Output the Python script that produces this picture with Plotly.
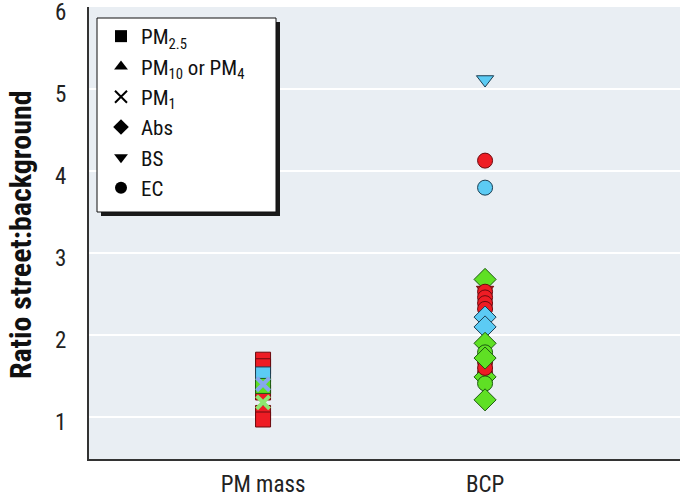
import plotly.graph_objects as go

categories = ["PM mass", "BCP"]
y_ticks = [1, 2, 3, 4, 5, 6]

# Each point: category index, value, metric, colour group
pm_x = [1, 1, 1, 1, 1, 1, 1, 1, 1]
pm_y = [1.70, 1.62, 1.30, 1.05, 0.97, 1.52, 1.38, 1.40, 1.18]
pm_metric = ["PM2.5", "PM2.5", "PM2.5", "PM2.5", "PM2.5", "PM2.5", "PM2.5", "PM1", "PM1"]
pm_group = ["red", "red", "red", "red", "red", "blue", "green", "blue", "green"]

bcp_x = [2] * 20
bcp_y = [5.12, 4.13, 3.80, 2.68, 2.55, 2.53, 2.46, 2.39, 2.32, 2.22, 2.10,
         1.90, 1.79, 1.67, 1.54, 1.49, 1.41, 1.21, 1.60, 1.72]
bcp_metric = ["BS", "EC", "EC", "Abs", "BS", "EC", "EC", "EC", "EC", "Abs", "Abs",
              "Abs", "EC", "EC", "EC", "Abs", "EC", "Abs", "EC", "Abs"]
bcp_group = ["blue", "red", "blue", "green", "red", "red", "red", "red", "red", "blue", "blue",
             "green", "green", "red", "red", "green", "green", "green", "red", "green"]

legend_labels = ["PM<sub>2.5</sub>", "PM<sub>10</sub> or PM<sub>4</sub>", "PM<sub>1</sub>", "Abs", "BS", "EC"]
legend_metrics = ["PM2.5", "PM10", "PM1", "Abs", "BS", "EC"]

symbol_map = {"PM2.5": "square", "PM10": "triangle-up", "PM1": "x-thin",
              "Abs": "diamond", "BS": "triangle-down", "EC": "circle"}
fill_map = {"red": "#ee1c24", "blue": "#5ccbf4", "green": "#5fe024"}
edge_map = {"red": "#6a0a0e", "blue": "#1c3d50", "green": "#1c5a10"}
xcol_map = {"red": "#ee6060", "blue": "#86a8ee", "green": "#8ee870"}

FONT = "Liberation Sans Narrow, Roboto Condensed, Arial Narrow, Liberation Sans, sans-serif"

W, H = 680, 498
L, R, T, B = 89, 0, 7, 39
PW, PH = W - L - R, H - T - B


def px_x(p):
    return (p - L) / PW


def px_y(p):
    return (H - B - p) / PH


fig = go.Figure()

xs = pm_x + bcp_x
ys = pm_y + bcp_y
ms = pm_metric + bcp_metric
gs = pm_group + bcp_group

for xv, yv, m, g in zip(xs, ys, ms, gs):
    sym = symbol_map[m]
    if sym == "x-thin":
        marker = dict(symbol=sym, size=13, line=dict(color=xcol_map[g], width=4))
    else:
        size = 17 if sym == "diamond" else 15
        marker = dict(symbol=sym, size=size, color=fill_map[g],
                      line=dict(color=edge_map[g], width=1))
    fig.add_trace(go.Scatter(x=[xv], y=[yv], mode="markers", marker=marker,
                             showlegend=False, hoverinfo="skip"))

for lab, m in zip(legend_labels, legend_metrics):
    sym = symbol_map[m]
    if sym == "x-thin":
        marker = dict(symbol=sym, size=13, line=dict(color="black", width=4))
    else:
        marker = dict(symbol=sym, size=16, color="black", line=dict(width=0))
    fig.add_trace(go.Scatter(x=[None], y=[None], mode="markers", marker=marker,
                             name=lab, showlegend=True))

# legend frame drawn as shapes: shadow then white box
fig.add_shape(type="rect", xref="paper", yref="paper",
              x0=px_x(101), x1=px_x(280), y0=px_y(216), y1=px_y(22),
              fillcolor="#1a1a1a", line=dict(width=0), layer="above")
fig.add_shape(type="rect", xref="paper", yref="paper",
              x0=px_x(97), x1=px_x(276), y0=px_y(212), y1=px_y(18),
              fillcolor="white", line=dict(color="#111", width=1), layer="above")

fig.update_layout(
    width=W, height=H,
    margin=dict(l=L, r=R, t=T, b=B, autoexpand=False),
    paper_bgcolor="white",
    plot_bgcolor="#e9eef3",
    font=dict(family=FONT, size=21, color="#222"),
    showlegend=True,
    legend=dict(x=px_x(101), y=px_y(16), xanchor="left", yanchor="top",
                bgcolor="rgba(0,0,0,0)", borderwidth=0,
                font=dict(family=FONT, size=21, color="#111"),
                itemsizing="constant", tracegroupgap=0),
    xaxis=dict(range=[0.216, 2.878], tickvals=[1, 2], ticktext=categories,
               showgrid=False, zeroline=False, showline=True, linecolor="#333",
               linewidth=2, ticks="outside", ticklen=3, tickcolor="rgba(0,0,0,0)",
               automargin=False,
               tickfont=dict(family=FONT, size=23, color="#222")),
    yaxis=dict(range=[0.488, 6.005], tickvals=y_ticks, ticktext=[str(t) for t in y_ticks],
               showgrid=True, gridcolor="white", gridwidth=1.5, zeroline=False,
               showline=True, linecolor="#333", linewidth=2,
               ticks="outside", ticklen=16, tickcolor="rgba(0,0,0,0)",
               automargin=False, ticklabelshift=5, ticklabeloverflow="allow",
               tickfont=dict(family=FONT, size=23, color="#222")),
    annotations=[dict(text="<b>Ratio street:background</b>", xref="paper", yref="paper",
                      x=px_x(20), y=px_y(235), xanchor="center", yanchor="middle",
                      textangle=-90, showarrow=False,
                      font=dict(family=FONT, size=30, color="#111"))],
)

fig.write_html("out.html", config={"displayModeBar": False},
               post_script="document.body.style.margin='0';")
